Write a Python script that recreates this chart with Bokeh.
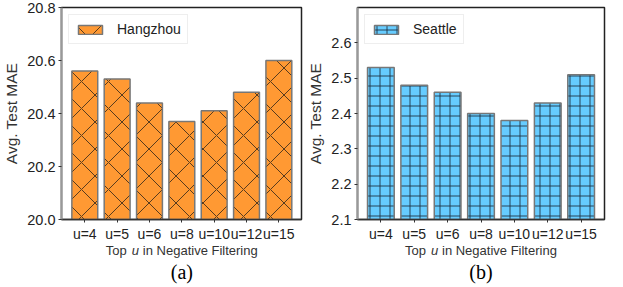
from bokeh.plotting import figure
from bokeh.layouts import row, column
from bokeh.models import Range1d, FixedTicker, Legend, LegendItem, ColumnDataSource, PrintfTickFormatter
from bokeh.core.properties import value
from bokeh.embed import file_html
from bokeh.resources import INLINE

categories = ["u=4", "u=5", "u=6", "u=8", "u=10", "u=12", "u=15"]
hangzhou_mae = [20.56, 20.53, 20.44, 20.37, 20.41, 20.48, 20.60]
seattle_mae = [2.53, 2.48, 2.46, 2.40, 2.38, 2.43, 2.51]
hangzhou_ticks = [20.0, 20.2, 20.4, 20.6, 20.8]
seattle_ticks = [2.1, 2.2, 2.3, 2.4, 2.5, 2.6]
xlabel_parts = ["Top", "u", "in Negative Filtering"]

SANS = "Liberation Sans"
SERIF = "Liberation Serif"
MAIN_H = 244
CAP_H = 41


def panel(name, values, ylo, yhi, ticks, color, hatch, hatch_scale, hatch_color,
          caption, width, left_border, xpad_l, xpad_r):
    n = len(categories)
    xr = Range1d(-xpad_l, n - 1 + xpad_r)
    p = figure(width=width, height=MAIN_H, output_backend="svg", toolbar_location=None,
               x_range=xr, y_range=Range1d(ylo, yhi),
               min_border_left=left_border, min_border_right=3,
               min_border_top=7, min_border_bottom=20)
    src = ColumnDataSource(dict(x=list(range(n)), top=values, cat=categories))
    r = p.vbar(x="x", top="top", bottom=ylo, width=0.8, source=src,
               fill_color=color, line_color="#777777", line_width=1.5,
               hatch_pattern=hatch, hatch_scale=hatch_scale, hatch_color=hatch_color,
               hatch_weight=1, hatch_alpha=0.85)
    p.grid.visible = False
    p.outline_line_color = "#222222"
    p.outline_line_width = 1.5

    xa = p.xaxis[0]
    xa.ticker = FixedTicker(ticks=list(range(n)))
    xa.major_label_overrides = {i: c for i, c in enumerate(categories)}
    xa.major_label_text_font = SANS
    xa.major_label_text_font_size = "14px"
    xa.major_label_text_color = "#222222"
    xa.major_label_standoff = 3
    xa.axis_line_color = "#333333"
    xa.axis_line_width = 1.5
    xa.major_tick_out = 3
    xa.major_tick_in = 0
    xa.minor_tick_line_color = None
    xa.major_tick_line_color = "#333333"

    ya = p.yaxis[0]
    ya.ticker = FixedTicker(ticks=ticks)
    ya.formatter = PrintfTickFormatter(format="%.1f")
    ya.major_label_text_font = SANS
    ya.major_label_text_font_size = "14.5px"
    ya.major_label_text_color = "#222222"
    ya.major_label_standoff = 3
    ya.axis_label = "Avg. Test MAE"
    ya.axis_label_text_font = SANS
    ya.axis_label_text_font_size = "15.5px"
    ya.axis_label_text_font_style = "normal"
    ya.axis_label_text_color = "#333333"
    ya.axis_label_standoff = 4
    ya.axis_line_color = "#999999"
    ya.axis_line_width = 2
    ya.major_tick_out = 3
    ya.major_tick_in = 0
    ya.minor_tick_line_color = None
    ya.major_tick_line_color = "#333333"

    legend = Legend(items=[LegendItem(label=name, renderers=[r])], location="top_left",
                    label_text_font=SANS, label_text_font_size="14px",
                    label_text_color="#222222", glyph_width=30, glyph_height=11,
                    label_standoff=12, padding=6, margin=7, spacing=0,
                    border_line_color="#dddddd", border_line_width=1,
                    background_fill_alpha=1.0)
    p.add_layout(legend)

    # caption strip: x-axis title (italic u) and panel caption
    c = figure(width=width, height=CAP_H, output_backend="svg", toolbar_location=None,
               x_range=xr, y_range=Range1d(CAP_H, 0),
               x_axis_location=None, y_axis_location=None,
               min_border_left=left_border, min_border_right=3,
               min_border_top=0, min_border_bottom=0)
    c.grid.visible = False
    c.outline_line_color = None
    mid = (n - 1) / 2
    offsets = [-76, -50, -39]
    styles = ["normal", "italic", "normal"]
    for txt, style, off in zip(xlabel_parts, styles, offsets):
        c.text(x=[mid], y=[5.5], text=[txt], x_offset=off, text_font=value(SANS),
               text_font_size="13px", text_font_style=style, text_color="#333333",
               text_align="left", text_baseline="middle")
    c.text(x=[mid], y=[27.5], text=[caption], text_font=value(SERIF),
           text_font_size="20px", text_color="#000000",
           text_align="center", text_baseline="middle")
    return column(p, c)


p1 = panel("Hangzhou", hangzhou_mae, 20.0, 20.8, hangzhou_ticks, "#ff9933", "x", 27, "#3a2a1a",
           "(a)", 304, 54, 0.72, 0.70)
p2 = panel("Seattle", seattle_mae, 2.1, 2.7, seattle_ticks, "#66ccff", "+", 10, "#1c2c3c",
           "(b)", 303, 49, 0.70, 0.70)

layout = row(p1, p2)
open("out.html", "w").write(file_html(layout, INLINE))
